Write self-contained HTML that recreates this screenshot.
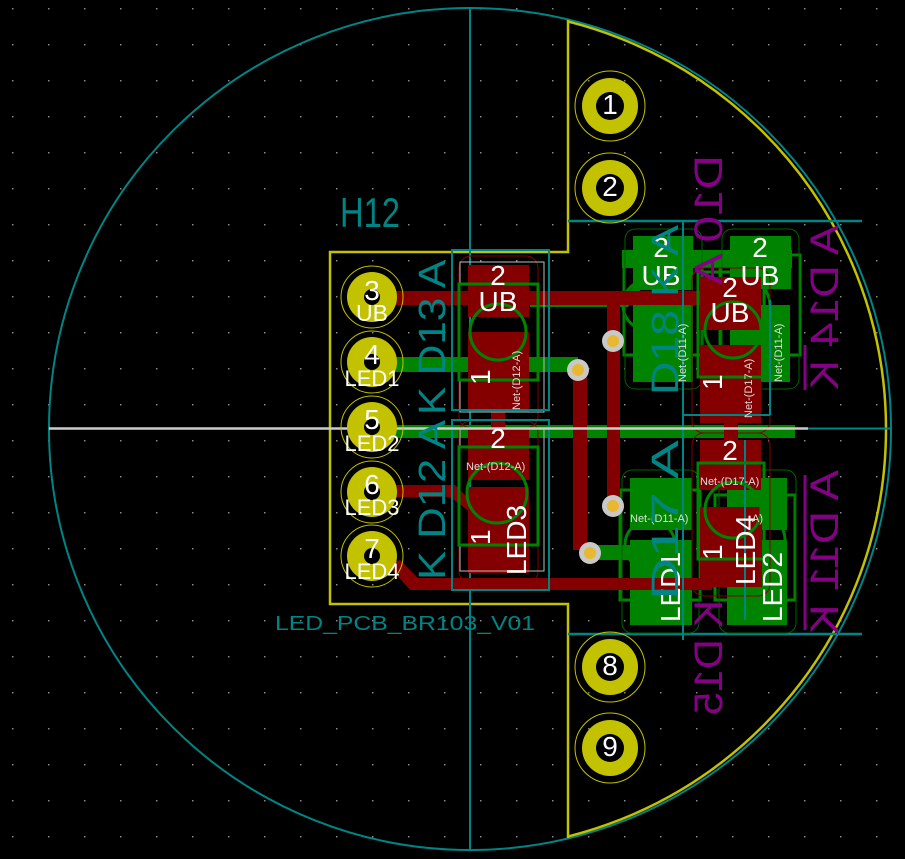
<!DOCTYPE html>
<html><head><meta charset="utf-8"><style>
html,body{margin:0;padding:0;background:#000;}
svg{display:block}
text{font-family:"Liberation Sans",sans-serif}
</style></head><body>
<svg width="905" height="859" viewBox="0 0 905 859" xmlns="http://www.w3.org/2000/svg">
<defs>
<pattern id="g" x="12" y="8" width="36" height="36" patternUnits="userSpaceOnUse">
<rect x="0" y="0" width="1.5" height="1.5" fill="#888"/>
</pattern>
<clipPath id="rc"><rect x="568" y="0" width="400" height="859"/></clipPath>
</defs>
<rect width="905" height="859" fill="#000"/>
<rect width="905" height="859" fill="url(#g)"/>

<!-- outlines -->
<circle cx="470" cy="429" r="421" fill="none" stroke="#008484" stroke-width="2"/>
<circle cx="466" cy="429" r="420" fill="none" stroke="#c2c200" stroke-width="2.5" clip-path="url(#rc)"/>
<path d="M568 20 V252 H330 V604 H568 V838" fill="none" stroke="#c2c200" stroke-width="2.5"/>
<line x1="470" y1="8" x2="470" y2="850" stroke="#008484" stroke-width="2"/>
<line x1="568" y1="221" x2="862" y2="221" stroke="#008484" stroke-width="2.5"/>
<line x1="568" y1="634" x2="862" y2="634" stroke="#008484" stroke-width="2.5"/>

<!-- green copper (back) -->
<g fill="#008400">
<rect x="395" y="357" width="183" height="15"/>
<rect x="395" y="425" width="400" height="13"/>
<polygon points="530,298 622,298 640,280 640,292 628,307 530,307"/>
<rect x="590" y="545" width="45" height="15"/>
<rect x="633" y="236" width="60" height="54"/>
<rect x="633" y="303" width="60" height="79"/>
<rect x="730" y="236" width="61" height="53"/>
<rect x="730" y="305" width="60" height="77"/>
<rect x="630" y="478" width="62" height="52"/>
<rect x="630" y="540" width="62" height="85"/>
<rect x="727" y="478" width="60" height="52"/>
<rect x="727" y="540" width="60" height="85"/>
<rect x="622" y="250" width="170" height="18"/>
</g>
<g fill="none" stroke="#008400" stroke-width="3">
<rect x="624" y="255" width="78" height="100"/>
<rect x="720" y="255" width="80" height="100"/>
<rect x="620" y="490" width="80" height="110"/>
<rect x="715" y="495" width="80" height="105"/>
<circle cx="648" cy="305" r="25"/>
<circle cx="745" cy="305" r="25"/>
<circle cx="650" cy="545" r="25"/>
<circle cx="760" cy="540" r="25"/>
</g>
<g fill="none" stroke="#006400" stroke-width="1">
<rect x="625" y="229" width="77" height="160" rx="10"/>
<rect x="722" y="229" width="77" height="160" rx="10"/>
<rect x="622" y="470" width="77" height="163" rx="10"/>
<rect x="719" y="470" width="77" height="163" rx="10"/>
</g>

<!-- red copper (front) -->
<g fill="#840000">
<rect x="395" y="291" width="310" height="14"/>
<rect x="468" y="265" width="61" height="52"/>
<rect x="468" y="332" width="61" height="80"/>
<rect x="491" y="410" width="14" height="22"/>
<rect x="468" y="428" width="61" height="52"/>
<rect x="468" y="487" width="61" height="86"/>
<polygon points="395,485 455,485 470,500 470,512 450,497 395,497"/>
<polygon points="388,565 400,560 418,578 612,578 612,590 410,590"/>
<rect x="607" y="578" width="105" height="12"/>
<rect x="573" y="370" width="14" height="180"/>
<rect x="607" y="292" width="13" height="214"/>
<rect x="700" y="277" width="61" height="53"/>
<rect x="700" y="345" width="61" height="78"/>
<rect x="724" y="420" width="14" height="22"/>
<rect x="700" y="440" width="61" height="50"/>
<rect x="700" y="507" width="62" height="80"/>
</g>
<g fill="none" stroke="#840000" stroke-width="1">
<rect x="459" y="256" width="79" height="172" rx="12"/>
<rect x="459" y="421" width="79" height="162" rx="12"/>
<rect x="692" y="268" width="78" height="165" rx="12"/>
<rect x="692" y="433" width="78" height="163" rx="12"/>
</g>
<g fill="none" stroke="#bbb" stroke-width="1">
<rect x="460" y="262" width="84" height="150"/>
<rect x="460" y="428" width="84" height="143"/>
</g>
<g fill="none" stroke="#008484" stroke-width="2">
<rect x="452" y="250" width="97" height="160"/>
<rect x="452" y="420" width="97" height="170"/>
<line x1="683" y1="221" x2="683" y2="640"/>
<line x1="683" y1="415" x2="770" y2="415"/>
<line x1="770" y1="300" x2="770" y2="415"/>
<line x1="745" y1="440" x2="745" y2="620"/>
</g>
<g fill="none" stroke="#008400" stroke-width="3">
<rect x="459" y="284" width="79" height="96"/>
<rect x="459" y="447" width="79" height="98"/>
<circle cx="498" cy="332" r="28"/>
<circle cx="497" cy="493" r="30"/>
<rect x="698" y="272" width="66" height="105"/>
<rect x="698" y="463" width="66" height="96"/>
<circle cx="733" cy="330" r="28"/>
<circle cx="733" cy="510" r="28"/>
</g>

<!-- vias -->
<g>
<circle cx="613" cy="341" r="11" fill="#c8c8c8"/><circle cx="613" cy="341" r="6" fill="#e8b830"/>
<circle cx="578" cy="370" r="11" fill="#c8c8c8"/><circle cx="578" cy="370" r="6" fill="#e8b830"/>
<circle cx="613" cy="506" r="11" fill="#c8c8c8"/><circle cx="613" cy="506" r="6" fill="#e8b830"/>
<circle cx="590" cy="553" r="11" fill="#c8c8c8"/><circle cx="590" cy="553" r="6" fill="#e8b830"/>
</g>

<!-- white center line -->
<line x1="49" y1="428.5" x2="808" y2="428.5" stroke="#ccc" stroke-width="2.5"/>
<line x1="808" y1="428.5" x2="890" y2="428.5" stroke="#008484" stroke-width="2"/>

<!-- left header pads -->
<g>
<g transform="translate(372,297)"><circle r="31" fill="none" stroke="#c2c200" stroke-width="1"/><circle r="25" fill="#c2c200"/><circle r="8" fill="#000"/></g>
<g transform="translate(372,362)"><circle r="31" fill="none" stroke="#c2c200" stroke-width="1"/><circle r="25" fill="#c2c200"/><circle r="8" fill="#000"/></g>
<g transform="translate(372,427)"><circle r="31" fill="none" stroke="#c2c200" stroke-width="1"/><circle r="25" fill="#c2c200"/><circle r="8" fill="#000"/></g>
<g transform="translate(372,492)"><circle r="31" fill="none" stroke="#c2c200" stroke-width="1"/><circle r="25" fill="#c2c200"/><circle r="8" fill="#000"/></g>
<g transform="translate(372,556)"><circle r="31" fill="none" stroke="#c2c200" stroke-width="1"/><circle r="25" fill="#c2c200"/><circle r="8" fill="#000"/></g>
</g>
<!-- right pads -->
<g>
<g transform="translate(610,106)"><circle r="35" fill="none" stroke="#c2c200" stroke-width="1"/><circle r="28" fill="#c2c200"/><circle r="14" fill="#000"/></g>
<g transform="translate(610,188)"><circle r="35" fill="none" stroke="#c2c200" stroke-width="1"/><circle r="28" fill="#c2c200"/><circle r="14" fill="#000"/></g>
<g transform="translate(610,667)"><circle r="35" fill="none" stroke="#c2c200" stroke-width="1"/><circle r="28" fill="#c2c200"/><circle r="14" fill="#000"/></g>
<g transform="translate(610,748)"><circle r="35" fill="none" stroke="#c2c200" stroke-width="1"/><circle r="28" fill="#c2c200"/><circle r="14" fill="#000"/></g>
</g>

<!-- white text -->
<g fill="#fff" font-size="28" text-anchor="middle">
<text x="372" y="300">3</text><text x="372" y="321" font-size="23">UB</text>
<text x="372" y="364">4</text><text x="372" y="386" font-size="22">LED1</text>
<text x="372" y="429">5</text><text x="372" y="451" font-size="22">LED2</text>
<text x="372" y="494">6</text><text x="372" y="515" font-size="22">LED3</text>
<text x="372" y="558">7</text><text x="372" y="579" font-size="22">LED4</text>
<text x="610" y="114">1</text><text x="610" y="196">2</text>
<text x="610" y="675">8</text><text x="610" y="756">9</text>
<text x="498" y="285">2</text><text x="498" y="311">UB</text>
<text x="498" y="448">2</text>
<text x="661" y="257">2</text><text x="661" y="285">UB</text>
<text x="760" y="257">2</text><text x="760" y="285">UB</text>
<text x="730" y="297">2</text><text x="730" y="322">UB</text>
<text x="730" y="460">2</text>
</g>
<g fill="#fff" font-size="28">
<text transform="translate(490,385) rotate(-90)">1</text>
<text transform="translate(490,545) rotate(-90)">1</text>
<text transform="translate(526,575) rotate(-90)">LED3</text>
<text transform="translate(722,390) rotate(-90)">1</text>
<text transform="translate(722,560) rotate(-90)">1</text>
<text transform="translate(755,585) rotate(-90)">LED4</text>
<text transform="translate(680,622) rotate(-90)">LED1</text>
<text transform="translate(782,622) rotate(-90)">LED2</text>
</g>
<g fill="#ddd" font-size="11">
<text transform="translate(520,410) rotate(-90)">Net-(D12-A)</text>
<text x="466" y="470">Net-(D12-A)</text>
<text transform="translate(686,382) rotate(-90)">Net-(D11-A)</text>
<text transform="translate(752,418) rotate(-90)">Net-(D17-A)</text>
<text transform="translate(782,382) rotate(-90)">Net-(D11-A)</text>
<text x="700" y="485">Net-(D17-A)</text>
<text x="630" y="522">Net-(D11-A)</text>
<text x="752" y="522">A)</text>
</g>

<!-- teal silk text -->
<g fill="#008484">
<text x="340" y="227" font-size="42" textLength="60" lengthAdjust="spacingAndGlyphs">H12</text>
<text x="275" y="630" font-size="20" textLength="260" lengthAdjust="spacingAndGlyphs">LED_PCB_BR103_V01</text>
<text transform="translate(445,415) rotate(-90)" font-size="38" textLength="155" lengthAdjust="spacingAndGlyphs">K D13 A</text>
<text transform="translate(445,580) rotate(-90)" font-size="38" textLength="160" lengthAdjust="spacingAndGlyphs">K D12 A</text>
<text transform="translate(678,395) rotate(-90)" font-size="38" textLength="170" lengthAdjust="spacingAndGlyphs">D18 K A</text>
<text transform="translate(678,600) rotate(-90)" font-size="38" textLength="160" lengthAdjust="spacingAndGlyphs">D17 A</text>
</g>
<!-- purple silk text (back, mirrored) -->
<g fill="#840084">
<text transform="translate(722,155) rotate(90) scale(1,-1)" font-size="40" textLength="130" lengthAdjust="spacingAndGlyphs">D10 A</text>
<text transform="translate(838,225) rotate(90) scale(1,-1)" font-size="40" textLength="165" lengthAdjust="spacingAndGlyphs">A D14 K</text>
<text transform="translate(838,470) rotate(90) scale(1,-1)" font-size="40" textLength="165" lengthAdjust="spacingAndGlyphs">A D11 K</text>
<text transform="translate(722,600) rotate(90) scale(1,-1)" font-size="40" textLength="115" lengthAdjust="spacingAndGlyphs">K D15</text>
</g>
<g stroke="#840084" stroke-width="3">
<line x1="805" y1="345" x2="805" y2="390"/>
<line x1="805" y1="475" x2="805" y2="630"/>
</g>
</svg>
</body></html>
